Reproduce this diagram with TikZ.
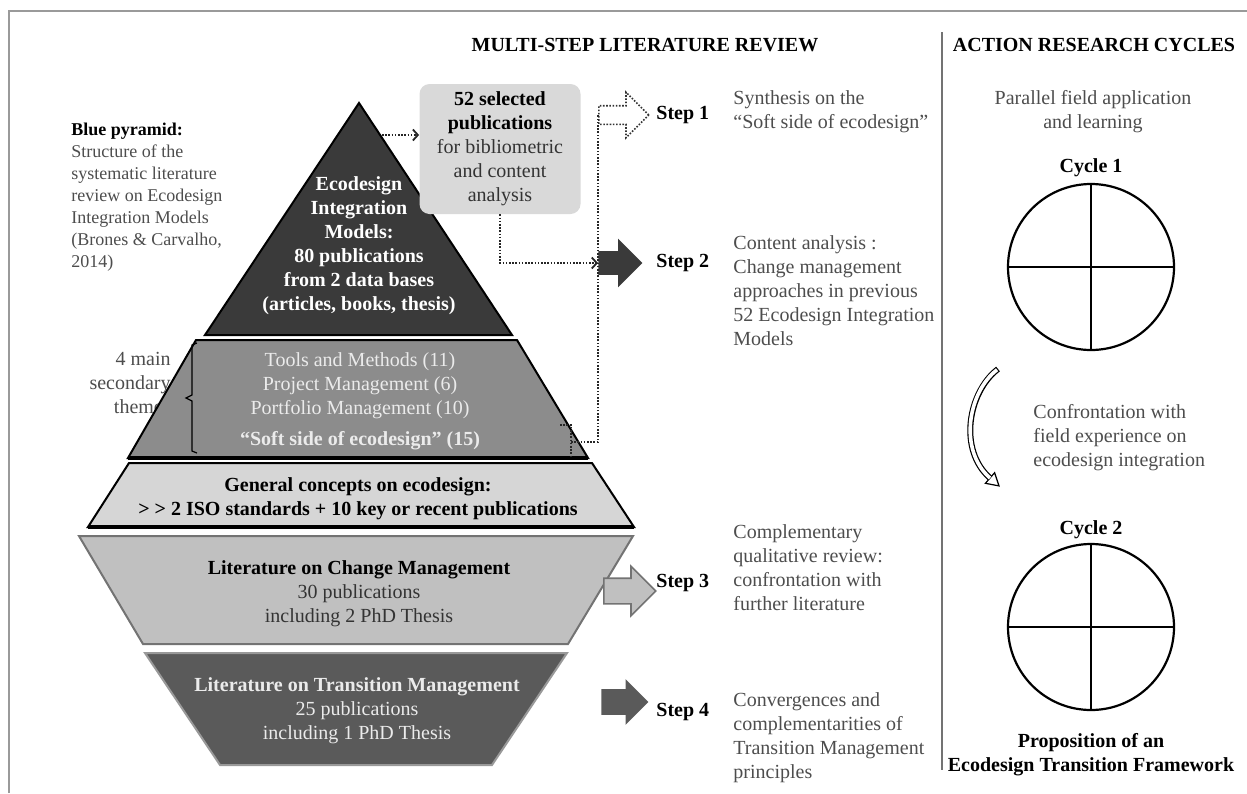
\documentclass[tikz,border=0pt]{standalone}
\usepackage{fontspec}
\setmainfont{Liberation Serif}
\usepackage{tikz}
\usetikzlibrary{positioning,shapes.arrows,arrows.meta}
\definecolor{pyrdark}{HTML}{3A3A3A}
\definecolor{pyrmid}{HTML}{8C8C8C}
\definecolor{pyrlight}{HTML}{D6D6D6}
\definecolor{changegray}{HTML}{C0C0C0}
\definecolor{transgray}{HTML}{5A5A5A}
\definecolor{boxgray}{HTML}{D9D9D9}
\definecolor{textgray}{HTML}{4D4D4D}
\definecolor{framegray}{HTML}{9A9A9A}
\tikzstyle{heading} = [font=\bfseries, inner sep=0pt]
\tikzstyle{bodytext} = [text=textgray, inner sep=0pt, align=left]
\tikzstyle{tier} = [draw=black, line width=1pt, line join=miter]
\tikzstyle{tiertext} = [inner sep=0pt, align=center, anchor=north]
\tikzstyle{stepbox} = [single arrow, anchor=tail, inner sep=0pt, text depth=0pt,
single arrow tip angle=90]
\tikzstyle{steplabel} = [font=\bfseries, anchor=west, inner sep=0pt]
\tikzstyle{dotline} = [dash pattern=on 0.8pt off 0.8pt, line width=0.9pt, draw=black!85]
\tikzstyle{dotarrow} = [dotline, -{Straight Barb[length=2.5pt, width=5.5pt]}]
\tikzstyle{cyclebox} = [circle, draw=black, line width=1.1pt, minimum size=83pt, inner sep=0pt]

\begin{document}
\fontsize{10}{12}\selectfont
\begin{tikzpicture}[x=0.5pt, y=-0.5pt]
        \useasboundingbox (0,0) rectangle (1247,793);
        
        % frame and separator
        \draw[framegray, line width=0.9pt] (9,793) -- (9,11) -- (1247,11);
        \draw[black!55, line width=0.8pt] (942,32) -- (942,770);
        
        \node (titleLit) [heading] at (645,45) {MULTI-STEP LITERATURE REVIEW};
        \node (titleAct) [heading] at (1094,45) {ACTION RESEARCH CYCLES};
        
        % notes left of the pyramid
        \node (bluenote) [bodytext, anchor=north west, font=\fontsize{9}{11}\selectfont] at (71,123) {{\color{black}\bfseries Blue pyramid:}\\Structure of the\\systematic literature\\review on Ecodesign\\Integration Models\\(Brones \& Carvalho,\\2014)};
        \node (themes) [bodytext, align=right, anchor=north east] at (171,352) {4 main\\secondary\\themes};
        
        % pyramid
        \filldraw[tier, fill=pyrdark] (359,103) -- (512,335) -- (205,335) -- cycle;
        \filldraw[tier, fill=pyrmid] (196,340) -- (517,340) -- (588,458) -- (128,458) -- cycle;
        \draw[line width=2pt] (128,458) -- (588,458);
        \filldraw[tier, fill=pyrlight] (129,463) -- (592,463) -- (634,527) -- (88,527) -- cycle;
        \draw[line width=2pt] (88,527) -- (634,527);
        \filldraw[tier, draw=black!55, fill=changegray] (79,536) -- (633,536) -- (568,644) -- (143,644) -- cycle;
        \filldraw[tier, draw=black!40, fill=transgray] (145,653) -- (567,653) -- (492,765) -- (220,765) -- cycle;
        
        \node (eim) [tiertext, text=white, font=\bfseries] at (359,176) {Ecodesign\\Integration\\Models:\\80 publications\\from 2 data bases\\(articles, books, thesis)};
        \node (themeslist) [tiertext, text=white!92!black] at (360,352) {Tools and Methods (11)\\Project Management (6)\\Portfolio Management (10)};
        \node (softside) [tiertext, anchor=center, text=white!92!black, font=\bfseries] at (360,441) {``Soft side of ecodesign'' (15)};
        \draw[line width=0.6pt] (197,343) -- (192,345) -- (192,395) -- (186,398) -- (192,401) -- (192,451) -- (197,453);
        \node (general) [tiertext, font=\bfseries] at (358,477) {General concepts on ecodesign:\\> > 2 ISO standards + 10 key or recent publications};
        \node (change) [tiertext, text=black!80] at (359,560) {\textbf{\color{black}Literature on Change Management}\\30 publications\\including 2 PhD Thesis};
        \node (transition) [tiertext, text=white!92!black] at (357,677) {\textbf{Literature on Transition Management}\\25 publications\\including 1 PhD Thesis};
        
        \node (sel) [rectangle, rounded corners=5pt, fill=boxgray, text=black!80, minimum width=80.5pt, minimum height=65pt, align=center, inner sep=0pt] at (500,149) {\textbf{\color{black}52 selected}\\\textbf{\color{black}publications}\\for bibliometric\\and content\\analysis};
        
        % step arrows
        \node (arr1) [stepbox, draw=black!80, dash pattern=on 0.8pt off 0.8pt, line width=0.8pt, text height=8.5pt, minimum height=25pt, single arrow head extend=6.75pt] at (598,115) {};
        \node (arr2) [stepbox, fill=pyrdark, text height=11.5pt, minimum height=22pt, single arrow head extend=6.25pt] at (598,263) {};
        \node (arr3) [stepbox, fill=changegray, draw=black!55, line width=0.8pt, text height=12pt, minimum height=26pt, single arrow head extend=6pt] at (603,591) {};
        \node (arr4) [stepbox, fill=transgray, text height=12.5pt, minimum height=23.5pt, single arrow head extend=5pt] at (601,702) {};
        
        \node (step1) [steplabel] at (656,115) {Step 1};
        \node (step2) [steplabel] at (656,263) {Step 2};
        \node (step3) [steplabel] at (656,583) {Step 3};
        \node (step4) [steplabel] at (656,712) {Step 4};
        
        \node (desc1) [bodytext, anchor=north west] at (733,90) {Synthesis on the\\``Soft side of ecodesign''};
        \node (desc2) [bodytext, anchor=north west] at (733,235) {Content analysis :\\Change management\\approaches in previous\\52 Ecodesign Integration\\Models};
        \node (desc3) [bodytext, anchor=north west] at (733,524) {Complementary\\qualitative review:\\confrontation with\\further literature};
        \node (desc4) [bodytext, anchor=north west] at (733,692) {Convergences and\\complementarities of\\Transition Management\\principles};
        
        % dotted links
        \coordinate (eimedge) at (382,135);
        \coordinate (softmark) at (571,442);
        \draw[dotarrow] (eimedge) -- (eimedge -| sel.west);
        \draw[dotarrow] (sel.south) |- (arr2.tail);
        \draw[dotline] (560,425) -| (571,458);
        \draw[dotline] (softmark) -| (arr1.tail);
        
        % action research cycles
        \node (parallel) [bodytext, align=center, anchor=north] at (1093,90) {Parallel field application\\and learning};
        \node (cyc1) [cyclebox] at (1091,267) {};
        \draw[line width=1.1pt] (cyc1.north) -- (cyc1.south) (cyc1.west) -- (cyc1.east);
        \node (cycle1) [heading, above=3pt of cyc1] {Cycle 1};
        
        \node (cyc2) [cyclebox] at (1091,627) {};
        \draw[line width=1.1pt] (cyc2.north) -- (cyc2.south) (cyc2.west) -- (cyc2.east);
        \node (cycle2) [heading, above=2pt of cyc2] {Cycle 2};
        \node (proposal) [heading, align=center, anchor=north, below=11pt of cyc2] {Proposition of an\\Ecodesign Transition Framework};
        
        \node (confront) [bodytext, anchor=north west] at (1033,404) {Confrontation with\\field experience on\\ecodesign integration};
        \coordinate (loopstart) at (998,369);
        \coordinate (loopend) at (990,478);
        \draw[line width=3pt] (loopstart) .. controls (968,392) and (958,450) .. (loopend);
        \filldraw[fill=white, line width=0.6pt] (994.6,472.7) -- (999,485.9) -- (985.4,483.3) -- cycle;
        \draw[white, line width=1.8pt, shorten <=0.6pt] (loopstart) .. controls (968,392) and (958,450) .. (loopend);
        
\end{tikzpicture}
\end{document}
